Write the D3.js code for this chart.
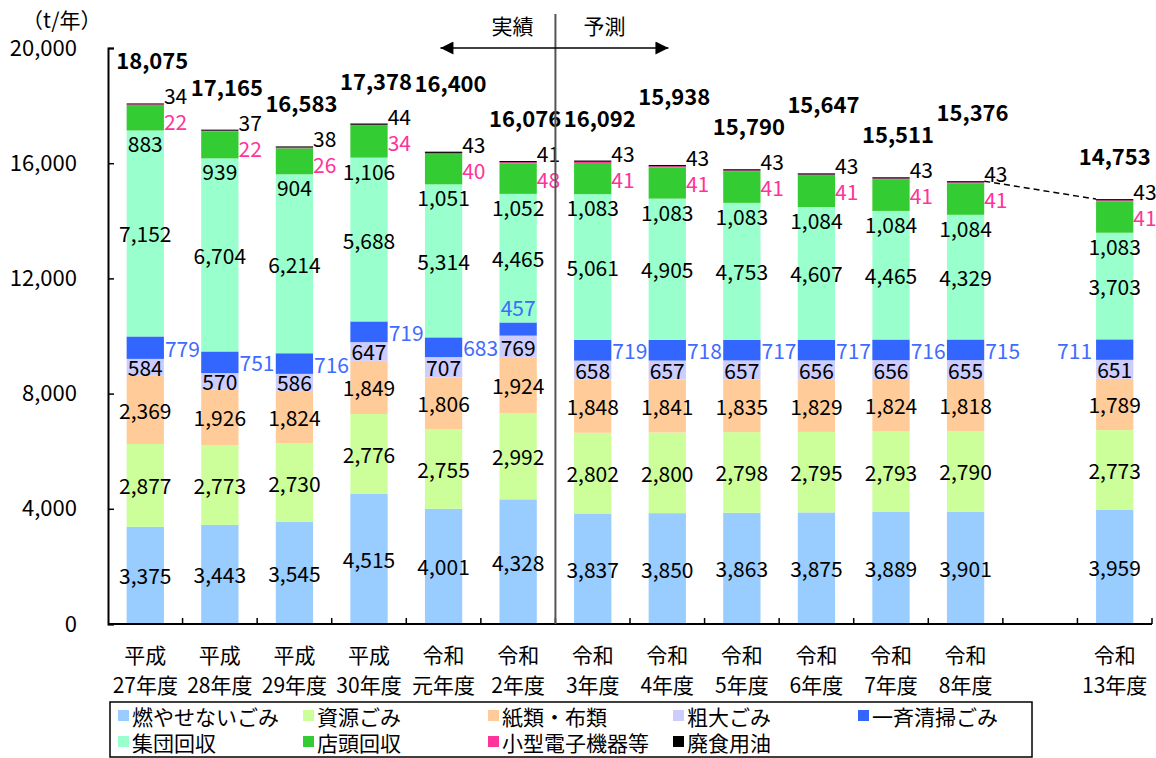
<!DOCTYPE html>
<html>
<head>
<meta charset="utf-8">
<script src="https://cdn.jsdelivr.net/npm/d3@7"></script>
<style>
  body { margin: 0; background: #fff; }
  svg text { font-family: "Noto Sans CJK JP", "Noto Sans", sans-serif; }
</style>
</head>
<body>
<svg id="chart" width="1156" height="758"></svg>
<script>
// categories (fiscal years), split over two label lines
const yearKeys = ["H27","H28","H29","H30","R1","R2","R3","R4","R5","R6","R7","R8","R13"];
const eraLabels = ["平成","平成","平成","平成","令和","令和","令和","令和","令和","令和","令和","令和","令和"];
const yearLabels = ["27年度","28年度","29年度","30年度","元年度","2年度","3年度","4年度","5年度","6年度","7年度","8年度","13年度"];

// series values (t/年), bottom to top
const nonBurnable  = [3375, 3443, 3545, 4515, 4001, 4328, 3837, 3850, 3863, 3875, 3889, 3901, 3959];
const resource     = [2877, 2773, 2730, 2776, 2755, 2992, 2802, 2800, 2798, 2795, 2793, 2790, 2773];
const paperCloth   = [2369, 1926, 1824, 1849, 1806, 1924, 1848, 1841, 1835, 1829, 1824, 1818, 1789];
const bulky        = [584, 570, 586, 647, 707, 769, 658, 657, 657, 656, 656, 655, 651];
const cleanup      = [779, 751, 716, 719, 683, 457, 719, 718, 717, 717, 716, 715, 711];
const groupCollect = [7152, 6704, 6214, 5688, 5314, 4465, 5061, 4905, 4753, 4607, 4465, 4329, 3703];
const storeCollect = [883, 939, 904, 1106, 1051, 1052, 1083, 1083, 1083, 1084, 1084, 1084, 1083];
const smallElec    = [22, 22, 26, 34, 40, 48, 41, 41, 41, 41, 41, 41, 41];
const wasteOil     = [34, 37, 38, 44, 43, 41, 43, 43, 43, 43, 43, 43, 43];
const totals       = [18075, 17165, 16583, 17378, 16400, 16076, 16092, 15938, 15790, 15647, 15511, 15376, 14753];

const seriesNames = ["燃やせないごみ","資源ごみ","紙類・布類","粗大ごみ","一斉清掃ごみ","集団回収","店頭回収","小型電子機器等","廃食用油"];
const yTicks = [0, 4000, 8000, 12000, 16000, 20000];

const seriesValues = [nonBurnable, resource, paperCloth, bulky, cleanup, groupCollect, storeCollect, smallElec, wasteOil];
const colors = ["#99CCFF","#CCFF99","#FFCC99","#CCCCFF","#3366FF","#99FFCC","#33CC33","#FF3399","#000000"];

// slots: one empty slot between 8年度 and 13年度
const slotKeys = [...yearKeys.slice(0, 12), "gap", "R13"];

const rows = yearKeys.map((k, i) => {
  const r = { key: k };
  seriesNames.forEach((s, j) => r[s] = seriesValues[j][i]);
  return r;
});
const stacked = d3.stack().keys(seriesNames)(rows);

const svg = d3.select("#chart");
const plotL = 108, plotR = 1152, plotT = 48, plotB = 624;

const x = d3.scaleBand().domain(slotKeys).range([plotL, plotR])
  .paddingInner(0.5).paddingOuter(0.25);
const y = d3.scaleLinear().domain([0, 20000]).range([plotB, plotT]);
const bw = x.bandwidth();
const fmt = d3.format(",");

// bars
svg.append("g").selectAll("g")
  .data(stacked)
  .join("g")
  .attr("fill", (d, i) => colors[i])
  .selectAll("rect")
  .data(d => d)
  .join("rect")
  .attr("x", d => x(d.data.key))
  .attr("y", d => y(d[1]))
  .attr("width", bw)
  .attr("height", d => y(d[0]) - y(d[1]));

// y axis (ticks inward)
const yAxis = svg.append("g")
  .attr("transform", `translate(${plotL},0)`)
  .call(d3.axisLeft(y).tickValues(yTicks).tickFormat(fmt).tickSize(-6).tickPadding(31));
yAxis.select(".domain").attr("stroke", "#000").attr("stroke-width", 2);
yAxis.selectAll(".tick line").attr("stroke-width", 1.5);
yAxis.selectAll("text").attr("font-size", 22).attr("fill", "#000")
  .attr("font-family", "'Noto Sans CJK JP', sans-serif");

svg.append("text")
  .attr("x", 22).attr("y", 19)
  .attr("dominant-baseline", "central")
  .attr("font-size", 21)
  .text("（t/年）");

// x axis line and boundary ticks
svg.append("line")
  .attr("x1", plotL).attr("x2", plotR).attr("y1", plotB).attr("y2", plotB)
  .attr("stroke", "#000").attr("stroke-width", 2);
const step = x.step();
d3.range(1, slotKeys.length + 1).forEach(k => {
  svg.append("line")
    .attr("x1", plotL + k * step).attr("x2", plotL + k * step)
    .attr("y1", plotB).attr("y2", plotB - 6)
    .attr("stroke", "#000").attr("stroke-width", 1.5);
});

const xl = svg.append("g").selectAll("text")
  .data(yearKeys)
  .join("text")
  .attr("text-anchor", "middle")
  .attr("font-size", 21);
xl.append("tspan")
  .attr("x", d => x(d) + bw / 2).attr("y", 663)
  .text((d, i) => eraLabels[i]);
xl.append("tspan")
  .attr("x", d => x(d) + bw / 2).attr("y", 693)
  .text((d, i) => yearLabels[i]);

// segment labels
const labels = svg.append("g").attr("font-size", 21).attr("dominant-baseline", "central");
const centerSeries = [0, 1, 2, 3, 5];
centerSeries.forEach(si => {
  labels.selectAll(null)
    .data(stacked[si])
    .join("text")
    .attr("x", d => x(d.data.key) + bw / 2)
    .attr("y", d => y((d[0] + d[1]) / 2))
    .attr("text-anchor", "middle")
    .text(d => fmt(d[1] - d[0]));
});

// 一斉清掃ごみ: right of bar, except 2年度 (above) and 13年度 (left)
labels.selectAll(null)
  .data(stacked[4])
  .join("text")
  .attr("fill", "#3F6BFF")
  .attr("x", d => d.data.key === "R2" ? x(d.data.key) + bw / 2
                : d.data.key === "R13" ? x(d.data.key) - 4
                : x(d.data.key) + bw + 1)
  .attr("y", d => d.data.key === "R2" ? y(d[1]) - 15 : y((d[0] + d[1]) / 2))
  .attr("text-anchor", d => d.data.key === "R2" ? "middle" : d.data.key === "R13" ? "end" : "start")
  .text(d => fmt(d[1] - d[0]));

// 店頭回収: just below the segment base
labels.selectAll(null)
  .data(stacked[6])
  .join("text")
  .attr("x", d => x(d.data.key) + bw / 2)
  .attr("y", d => y(d[0]) + 13)
  .attr("text-anchor", "middle")
  .text(d => fmt(d[1] - d[0]));

// 小型電子機器等 and 廃食用油: right of the bar top
labels.selectAll(null)
  .data(stacked[7])
  .join("text")
  .attr("fill", "#FF3399")
  .attr("x", d => x(d.data.key) + bw)
  .attr("y", (d, i) => y(totals[i]) + 18)
  .text(d => fmt(d[1] - d[0]));
labels.selectAll(null)
  .data(stacked[8])
  .join("text")
  .attr("x", d => x(d.data.key) + bw)
  .attr("y", (d, i) => y(totals[i]) - 8)
  .text(d => fmt(d[1] - d[0]));

// totals, staggered so neighbours don't collide
const raised = new Set(["R1", "R4", "R6", "R8"]);
labels.selectAll(null)
  .data(yearKeys)
  .join("text")
  .attr("font-weight", "bold")
  .attr("font-size", 22)
  .attr("text-anchor", "middle")
  .attr("x", d => x(d) + bw / 2 + (d === "R13" ? 0 : 7))
  .attr("y", (d, i) => y(totals[i]) - (raised.has(d) ? 70 : 44))
  .text((d, i) => fmt(totals[i]));

// dashed line from 8年度 to 13年度
svg.append("line")
  .attr("x1", x("R8") + bw).attr("y1", y(totals[11]))
  .attr("x2", x("R13")).attr("y2", y(totals[12]))
  .attr("stroke", "#000").attr("stroke-width", 1.5)
  .attr("stroke-dasharray", "6,4");

// actual / forecast divider
const sep = x("R3") - (step - bw) / 2;
svg.append("line")
  .attr("x1", sep).attr("x2", sep).attr("y1", 14).attr("y2", plotB)
  .attr("stroke", "#555").attr("stroke-width", 2);
svg.append("defs").append("marker")
  .attr("id", "arr").attr("viewBox", "0 0 10 10")
  .attr("refX", 10).attr("refY", 5)
  .attr("markerWidth", 14).attr("markerHeight", 13)
  .attr("markerUnits", "userSpaceOnUse")
  .attr("orient", "auto-start-reverse")
  .append("path").attr("d", "M0,0L10,5L0,10Z").attr("fill", "#000");
svg.append("line")
  .attr("x1", sep - 115).attr("x2", sep + 113).attr("y1", 48).attr("y2", 48)
  .attr("stroke", "#000").attr("stroke-width", 1.5)
  .attr("marker-start", "url(#arr)").attr("marker-end", "url(#arr)");
svg.append("text").attr("x", sep - 22).attr("y", 25)
  .attr("text-anchor", "end").attr("dominant-baseline", "central")
  .attr("font-size", 21).text("実績");
svg.append("text").attr("x", sep + 28).attr("y", 25)
  .attr("dominant-baseline", "central")
  .attr("font-size", 21).text("予測");

// legend
svg.append("rect")
  .attr("x", 110).attr("y", 702).attr("width", 922).attr("height", 55)
  .attr("fill", "none").attr("stroke", "#000").attr("stroke-width", 1.5);
const legend = svg.append("g").selectAll("g")
  .data(seriesNames)
  .join("g")
  .attr("transform", (d, i) => `translate(${118 + (i % 5) * 185},${i < 5 ? 716 : 742})`);
legend.append("rect")
  .attr("x", 0).attr("y", -6).attr("width", 11).attr("height", 11)
  .attr("fill", (d, i) => colors[i]);
legend.append("text")
  .attr("x", 14).attr("y", 0)
  .attr("dominant-baseline", "central")
  .attr("font-size", 21)
  .text(d => d);
</script>
</body>
</html>
